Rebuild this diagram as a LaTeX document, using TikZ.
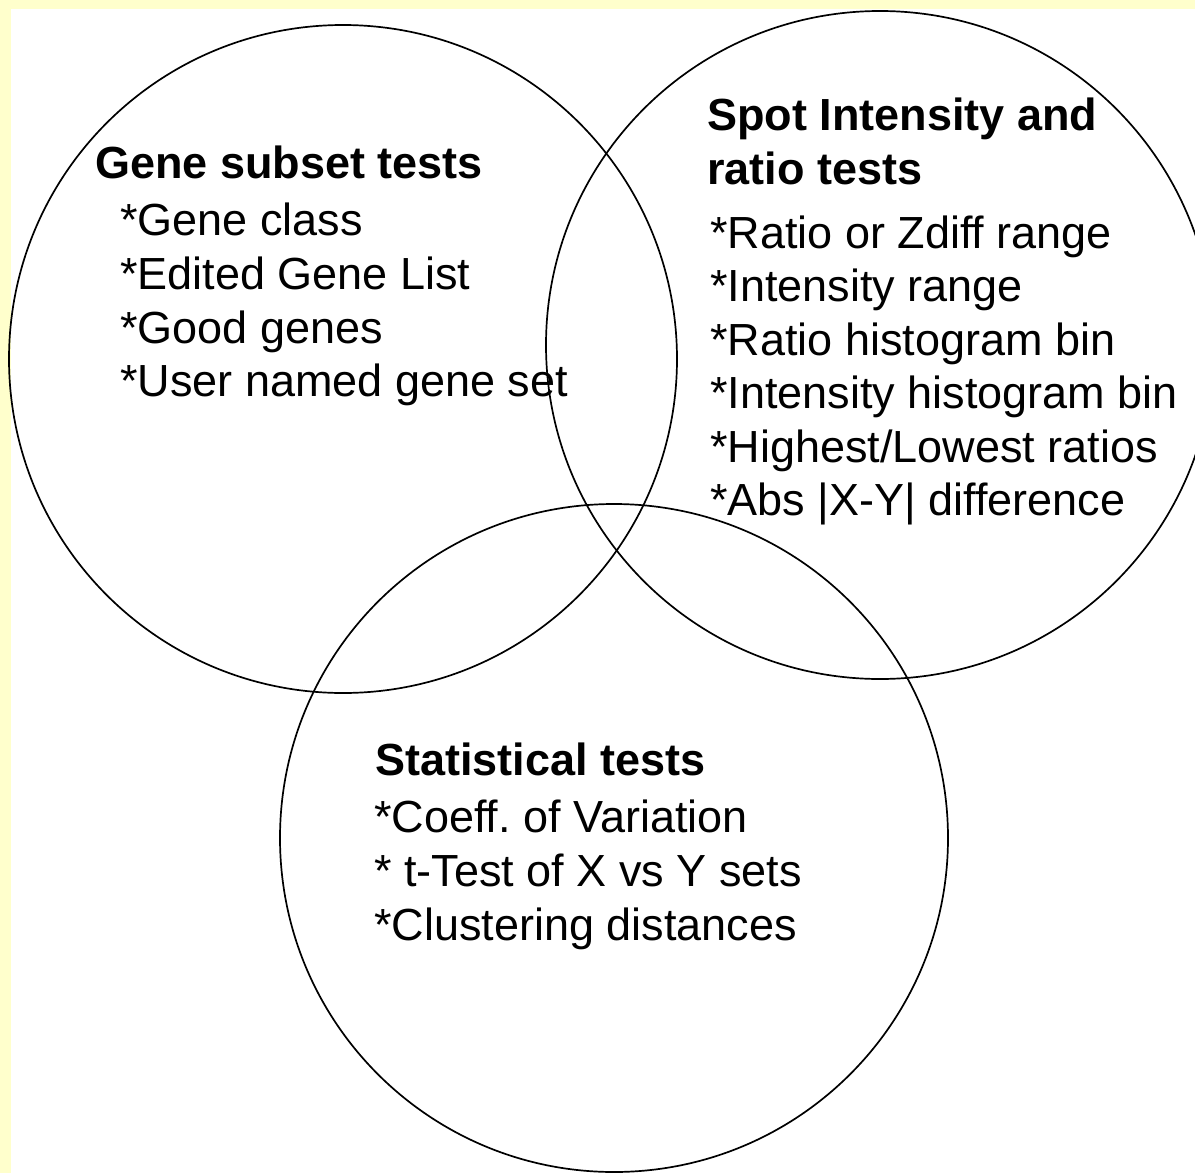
\documentclass[tikz,border=0pt]{standalone}
\usepackage{fontspec}
\setmainfont{Liberation Sans}
\frenchspacing
\definecolor{paleyellow}{HTML}{FFFFCC}
\tikzset{
  ring/.style={circle, draw=black, line width=1.7pt, minimum size=668pt, inner sep=0pt},
  head/.style={anchor=base west, inner sep=0pt, font=\fontsize{45}{54}\selectfont\bfseries},
  item/.style={anchor=base west, inner sep=0pt, font=\fontsize{45}{54}\selectfont},
}
\begin{document}
\begin{tikzpicture}[x=1pt,y=-1pt]
\useasboundingbox (0,0) rectangle (1195,1173);
\clip (0,0) rectangle (1195,1173);
\fill[paleyellow] (0,0) rectangle (1195,1173);
\fill[white] (11,9) rectangle (1195,1173);
% circles
\node[ring] (left) at (343,359) {};
\node[ring] (right) at (880,345) {};
\node[ring] (bottom) at (614,838) {};
% left circle text
\node[head] (lt) at (95,178) {Gene subset tests};
\node[item] (l1) at (120,235) {*Gene class};
\node[item] (l2) at (120,289) {*Edited Gene List};
\node[item] (l3) at (120,343) {*Good genes};
\node[item] (l4) at (120,396) {*User named gene set};
% right circle text
\node[head] (rt1) at (707,130) {Spot Intensity and};
\node[head] (rt2) at (707,184) {ratio tests};
\node[item] (r1) at (710,248) {*Ratio or Zdiff range};
\node[item] (r2) at (710,301.5) {*Intensity range};
\node[item] (r3) at (710,355) {*Ratio histogram bin};
\node[item] (r4) at (710,408.5) {*Intensity histogram bin};
\node[item] (r5) at (710,462) {*Highest/Lowest ratios};
\node[item] (r6) at (710,515.5) {*Abs |X-Y| difference};
% bottom circle text
\node[head] (bt) at (375,775) {Statistical tests};
\node[item] (b1) at (374,832) {*Coeff. of Variation};
\node[item] (b2) at (374,886) {* t-Test of X vs Y sets};
\node[item] (b3) at (374,940) {*Clustering distances};
\end{tikzpicture}
\end{document}
